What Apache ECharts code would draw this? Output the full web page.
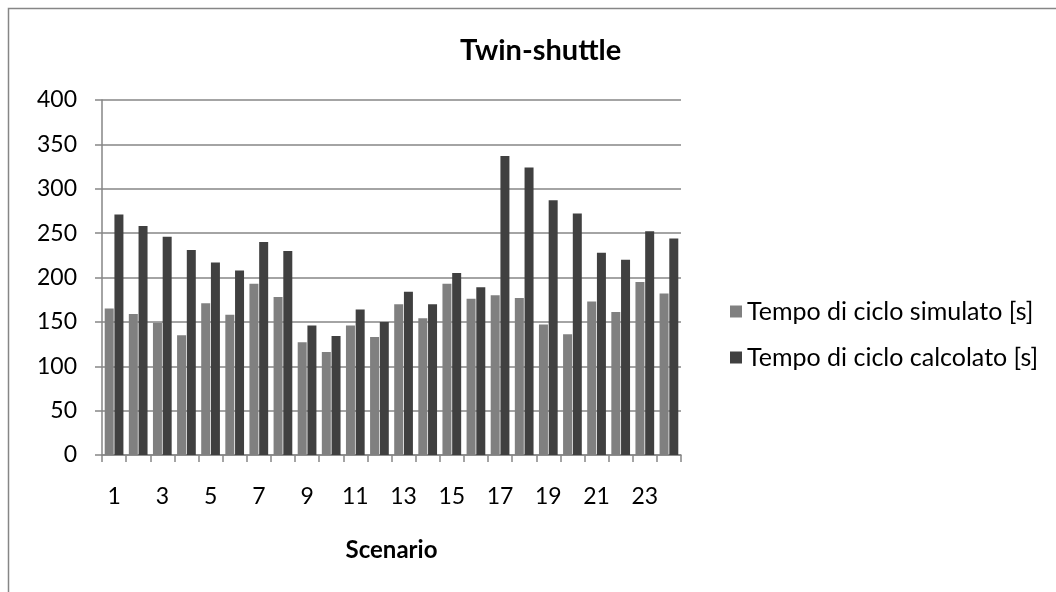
<!DOCTYPE html>
<html>
<head>
<meta charset="utf-8">
<script src="https://cdn.jsdelivr.net/npm/echarts@6/dist/echarts.min.js"></script>
<style>
html,body{margin:0;padding:0;background:#fff;}
#chart{width:1056px;height:592px;}
</style>
</head>
<body>
<div id="chart"></div>
<script>
const categories = ['1','2','3','4','5','6','7','8','9','10','11','12','13','14','15','16','17','18','19','20','21','22','23','24'];
const simulato = [165,159,149,135,171,158,193,178,127,116,146,133,170,154,193,176,180,177,147,136,173,161,195,182];
const calcolato = [271,258,246,231,217,208,240,230,146,134,164,150,184,170,205,189,337,324,287,272,228,220,252,244];
const yTicks = {min: 0, max: 400, interval: 50};
const seriesNames = ['Tempo di ciclo simulato [s]', 'Tempo di ciclo calcolato [s]'];

const FONT = 'Lato';
const chart = echarts.init(document.getElementById('chart'), null, {renderer: 'canvas'});
chart.setOption({
  animation: false,
  backgroundColor: '#ffffff',
  textStyle: {fontFamily: FONT},
  title: {
    text: 'Twin-shuttle',
    left: 455,
    top: 31,
    textStyle: {fontFamily: FONT, fontSize: 29, fontWeight: 'bold', color: '#000'}
  },
  graphic: [{
    type: 'rect',
    shape: {x: 8.5, y: 8.5, width: 1100, height: 700},
    style: {fill: 'none', stroke: '#868686', lineWidth: 1.5},
    silent: true
  }],
  legend: {
    orient: 'vertical',
    left: 725,
    top: 294,
    itemWidth: 12,
    itemHeight: 12,
    itemGap: 21,
    icon: 'rect',
    textStyle: {fontFamily: FONT, fontSize: 25, color: '#000'},
    data: seriesNames
  },
  grid: {left: 102, right: 375, top: 100, bottom: 137, containLabel: false},
  xAxis: {
    type: 'category',
    data: categories,
    name: 'Scenario',
    nameLocation: 'middle',
    nameGap: 83,
    nameTextStyle: {fontFamily: FONT, fontSize: 24, fontWeight: 'bold', color: '#000'},
    axisLine: {show: true, lineStyle: {color: '#868686', width: 1.5}},
    axisTick: {show: true, length: 7, interval: 0, alignWithLabel: false, lineStyle: {color: '#868686', width: 1.5}},
    axisLabel: {interval: 1, margin: 30, fontFamily: FONT, fontSize: 23, color: '#000'},
    splitLine: {show: false}
  },
  yAxis: {
    type: 'value',
    min: yTicks.min,
    max: yTicks.max,
    interval: yTicks.interval,
    axisLine: {show: true, lineStyle: {color: '#868686', width: 1.5}},
    axisTick: {show: true, length: 7, lineStyle: {color: '#868686', width: 1.5}},
    axisLabel: {margin: 25, fontFamily: FONT, fontSize: 23, color: '#000'},
    splitLine: {show: true, lineStyle: {color: '#868686', width: 1.5}}
  },
  series: [
    {
      name: seriesNames[0],
      type: 'bar',
      data: simulato,
      barWidth: 9,
      barGap: '8%',
      itemStyle: {color: '#808080'}
    },
    {
      name: seriesNames[1],
      type: 'bar',
      data: calcolato,
      barWidth: 9,
      barGap: '8%',
      itemStyle: {color: '#404040'}
    }
  ]
});
</script>
</body>
</html>
